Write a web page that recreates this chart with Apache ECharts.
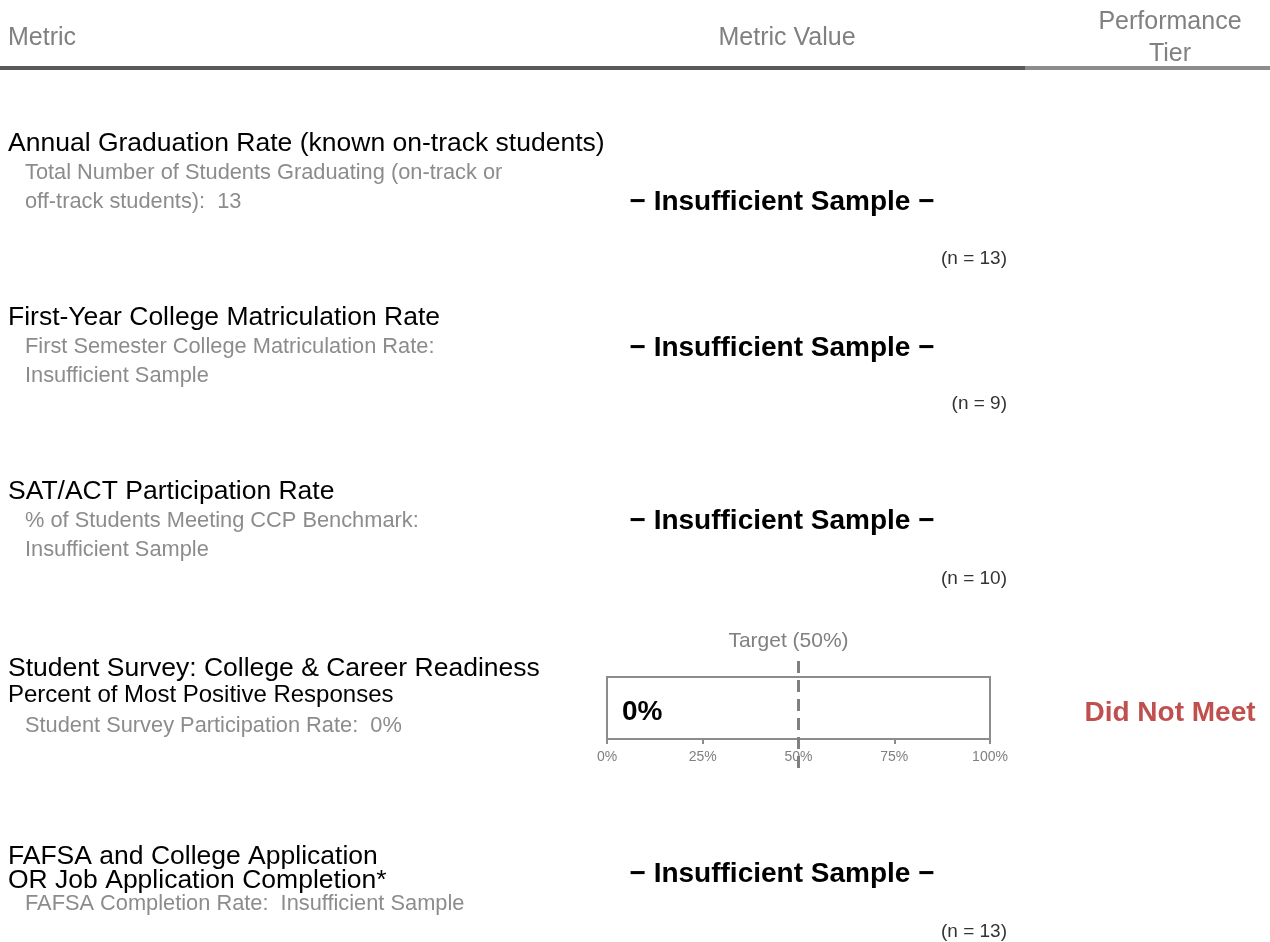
<!DOCTYPE html>
<html>
<head>
<meta charset="utf-8">
<script src="https://cdn.jsdelivr.net/npm/echarts@6/dist/echarts.min.js"></script>
<style>
html,body{margin:0;padding:0;background:#fff;}
#chart{width:1270px;height:942px;}
</style>
</head>
<body>
<div id="chart"></div>
<script>
// ---- data ----
const headerLabels = ['Metric', 'Metric Value', 'Performance\nTier'];
const metricTitles = [
  'Annual Graduation Rate (known on-track students)',
  'First-Year College Matriculation Rate',
  'SAT/ACT Participation Rate',
  'Student Survey: College & Career Readiness',
  'FAFSA and College Application\nOR Job Application Completion*'
];
const metricSubtitles = ['', '', '', 'Percent of Most Positive Responses', ''];
const metricNotes = [
  'Total Number of Students Graduating (on-track or\noff-track students):  13',
  'First Semester College Matriculation Rate:\nInsufficient Sample',
  '% of Students Meeting CCP Benchmark:\nInsufficient Sample',
  'Student Survey Participation Rate:  0%',
  'FAFSA Completion Rate:  Insufficient Sample'
];
const valueTexts = ['− Insufficient Sample −', '− Insufficient Sample −', '− Insufficient Sample −', null, '− Insufficient Sample −'];
const sampleSizes = [13, 9, 10, null, 13];
const surveyCategories = ['Student Survey'];
const surveyValues = [0];
const targetValue = 50;
const axisMin = 0, axisMax = 100, axisStep = 25;
const tiers = ['', '', '', 'Did Not Meet', ''];

// ---- layout (positions only) ----
const FONT = "Liberation Sans";
const DY = 2;
const rowLayout = [
  {title: 142, note: 171, value: 200, n: 257},
  {title: 316, note: 345, value: 346, n: 402},
  {title: 490, note: 519, value: 519, n: 577},
  {title: 667, sub: 693, note: 724, value: 711, n: null},
  {title: 855, note: 902, value: 872, n: 930}
];

const g = [];
function txt(text, x, y, size, color, opts) {
  opts = opts || {};
  g.push({
    type: 'text', silent: true,
    style: {
      text: text, x: x, y: y + DY,
      fontFamily: FONT, fontSize: size, fontWeight: opts.bold ? 'bold' : 'normal',
      fill: color,
      textAlign: opts.align || 'left',
      textVerticalAlign: opts.valign || 'middle',
      lineHeight: opts.lh || undefined
    }
  });
}
// header
txt(headerLabels[0], 8, 36, 25, '#808080');
txt(headerLabels[1], 787, 36, 25, '#808080', {align: 'center'});
txt(headerLabels[2], 1170, 36, 25, '#808080', {align: 'center', lh: 32});
g.push({type: 'rect', silent: true, shape: {x: 0, y: 66, width: 1025, height: 4}, style: {fill: '#595959'}});
g.push({type: 'rect', silent: true, shape: {x: 1025, y: 66, width: 245, height: 4}, style: {fill: '#8c8c8c'}});

metricTitles.forEach(function (t, i) {
  const L = rowLayout[i];
  t.split('\n').forEach(function (ln, k) {
    txt(ln, 8, L.title + k * 24, 26.5, '#000');
  });
  if (metricSubtitles[i]) txt(metricSubtitles[i], 8, L.sub, 24, '#000');
  metricNotes[i].split('\n').forEach(function (ln, k) {
    txt(ln, 25, L.note + k * 29, 21.8, '#8c8c8c');
  });
  if (valueTexts[i]) txt(valueTexts[i], 782, L.value, 28, '#000', {bold: true, align: 'center'});
  if (sampleSizes[i] != null) txt('(n = ' + sampleSizes[i] + ')', 1007, L.n, 19, '#333', {align: 'right'});
  if (tiers[i]) txt(tiers[i], 1170, L.value, 28, '#c0504d', {bold: true, align: 'center'});
});

const chart = echarts.init(document.getElementById('chart'), null, {renderer: 'canvas'});
chart.setOption({
  animation: false,
  backgroundColor: '#fff',
  grid: [
    {left: 607, top: 677, width: 383, height: 62, show: true, borderColor: '#8c8c8c', borderWidth: 2, backgroundColor: 'transparent'},
    {left: 607, top: 656, width: 383, height: 112, show: false}
  ],
  xAxis: [
    {
      gridIndex: 0, type: 'value', min: axisMin, max: axisMax, interval: axisStep,
      axisLine: {show: true, lineStyle: {color: '#8c8c8c', width: 2}},
      axisTick: {show: true, length: 5, lineStyle: {color: '#8c8c8c', width: 2}},
      splitLine: {show: false},
      axisLabel: {formatter: '{value}%', color: '#808080', fontSize: 14, fontFamily: FONT, margin: 11}
    },
    {gridIndex: 1, type: 'value', min: axisMin, max: axisMax, show: false}
  ],
  yAxis: [
    {gridIndex: 0, type: 'category', data: surveyCategories, show: false},
    {gridIndex: 1, type: 'value', min: 0, max: 1, show: false}
  ],
  series: [
    {
      type: 'bar', xAxisIndex: 0, yAxisIndex: 0, data: surveyValues, barWidth: 40,
      itemStyle: {color: '#4f81bd'},
      label: {show: true, position: 'right', distance: 15, offset: [0, 4], formatter: '{c}%',
        color: '#000', fontSize: 28, fontWeight: 'bold', fontFamily: FONT}
    },
    {
      type: 'line', xAxisIndex: 1, yAxisIndex: 1, data: [], silent: true,
      markLine: {
        silent: true, symbol: ['none', 'none'],
        lineStyle: {color: '#808080', width: 3, type: [12, 7]},
        label: {show: true, position: 'end', distance: 4, offset: [-10, 0],
          formatter: 'Target (' + targetValue + '%)', color: '#808080', fontSize: 21, fontFamily: FONT},
        data: [{xAxis: targetValue}]
      }
    }
  ],
  graphic: g
});
</script>
</body>
</html>
